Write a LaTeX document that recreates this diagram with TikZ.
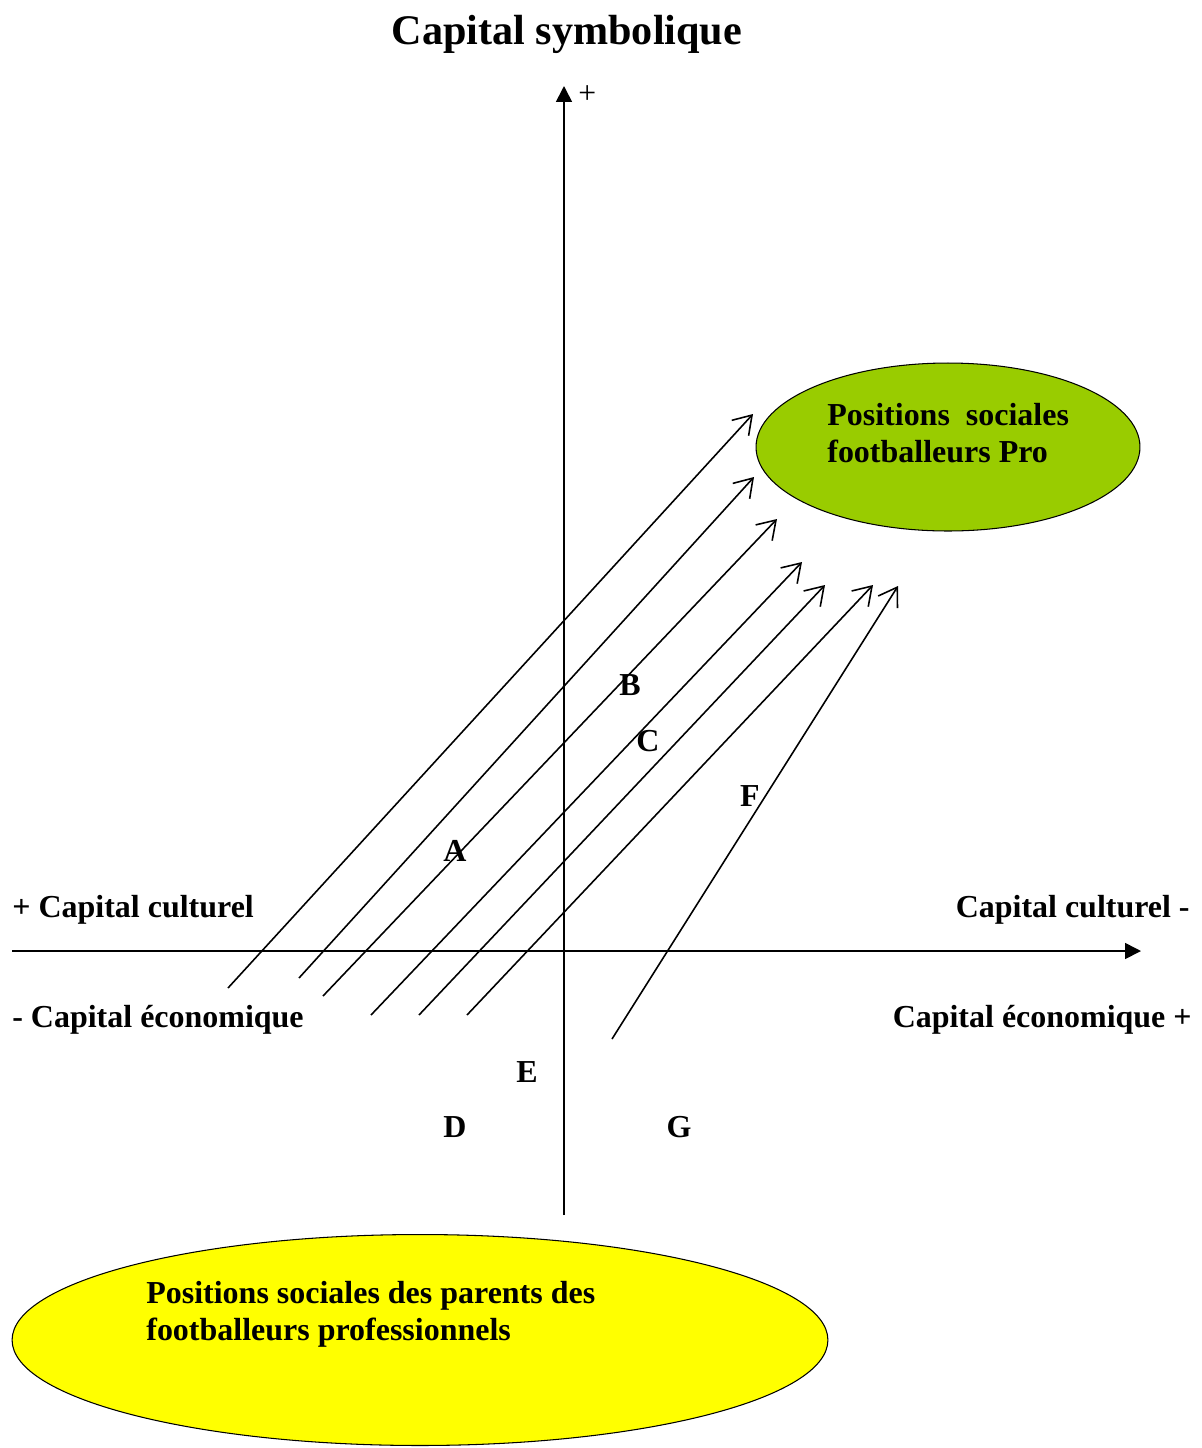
\documentclass[tikz,border=0pt]{standalone}
\usepackage{fontspec}
\setmainfont{Liberation Serif}
\usetikzlibrary{shapes.geometric,arrows.meta,positioning}
\definecolor{ProGreen}{HTML}{99CC00}
\definecolor{ParentYellow}{HTML}{FFFF00}
\tikzset{
    % Axis with filled tip
    axisarrow/.style={
        -{Triangle[length=9pt,width=9pt]},
        line width=0.95pt
    },
    % Trajectory arrow (open tip)
    trajarrow/.style={
        -{Straight Barb[length=10pt,width=13pt]},
        line width=0.9pt
    },
    % Bold label
    axislabel/.style={
        font=\fontsize{18.2}{21}\selectfont\bfseries,
        inner sep=0pt
    },
    % Zone ellipse
    zonenode/.style={
        ellipse,
        draw,
        line width=0.6pt,
        inner sep=0pt
    }
}
\begin{document}
\begin{tikzpicture}[x=0.02cm, y=-0.02cm]
        \useasboundingbox (0,0) rectangle (1202,1448);

        % Title
        \node[font=\fontsize{24}{28}\selectfont\bfseries, anchor=base] (title) at (567,44) {Capital symbolique};

        % Axes
        \coordinate (xleft) at (12,951);
        \coordinate (xright) at (1141,951);
        \coordinate (ybottom) at (564,1215);
        \coordinate (ytop) at (564,86);
        \draw[axisarrow] (xleft) -- (xright);
        \draw[axisarrow] (ybottom) -- (ytop);
        \node[font=\fontsize{18}{21}\selectfont, anchor=west, inner sep=0pt] (plus) at (578,95) {+};

        % Axis labels
        \node[axislabel, anchor=base west] (cultplus) at (12,917) {+ Capital culturel};
        \node[axislabel, anchor=base east] (cultmoins) at (1190,917) {Capital culturel -};
        \node[axislabel, anchor=base west] (ecomoins) at (12,1027) {- Capital économique};
        \node[axislabel, anchor=base east] (ecoplus) at (1192,1027) {Capital économique +};

        % Zones
        \node[zonenode, fill=ProGreen, minimum width=7.68cm, minimum height=3.36cm] (pro) at (948,447) {};
        \node[axislabel, align=left, anchor=west] (protext) at (827,433) {Positions\ \ sociales\\footballeurs Pro};
        \node[zonenode, fill=ParentYellow, minimum width=16.32cm, minimum height=4.22cm] (parents) at (420,1340) {};
        \node[axislabel, align=left, anchor=west] (parentstext) at (146,1314) {Positions sociales des parents des\\footballeurs professionnels};

        % Trajectories
        \foreach \name/\sx/\sy/\ex/\ey in {1/228/988/753/414, 2/299/978/754/477, 3/323/996/777/519,
                4/371/1015/802/562, 5/419/1015/825/585, 6/467/1015/873/585, 7/612/1039/898/586}{
            \coordinate (start\name) at (\sx,\sy);
            \coordinate (end\name) at (\ex,\ey);
            \draw[trajarrow] (start\name) -- (end\name);
        }

        % Trajectory letters
        \node[axislabel] (lA) at (455,851) {A};
        \node[axislabel] (lB) at (630,685) {B};
        \node[axislabel] (lC) at (648,741) {C};
        \node[axislabel] (lF) at (750,796) {F};
        \node[axislabel] (lE) at (527,1072) {E};
        \node[axislabel] (lD) at (455,1127) {D};
        \node[axislabel] (lG) at (679,1127) {G};
    \end{tikzpicture}
\end{document}
